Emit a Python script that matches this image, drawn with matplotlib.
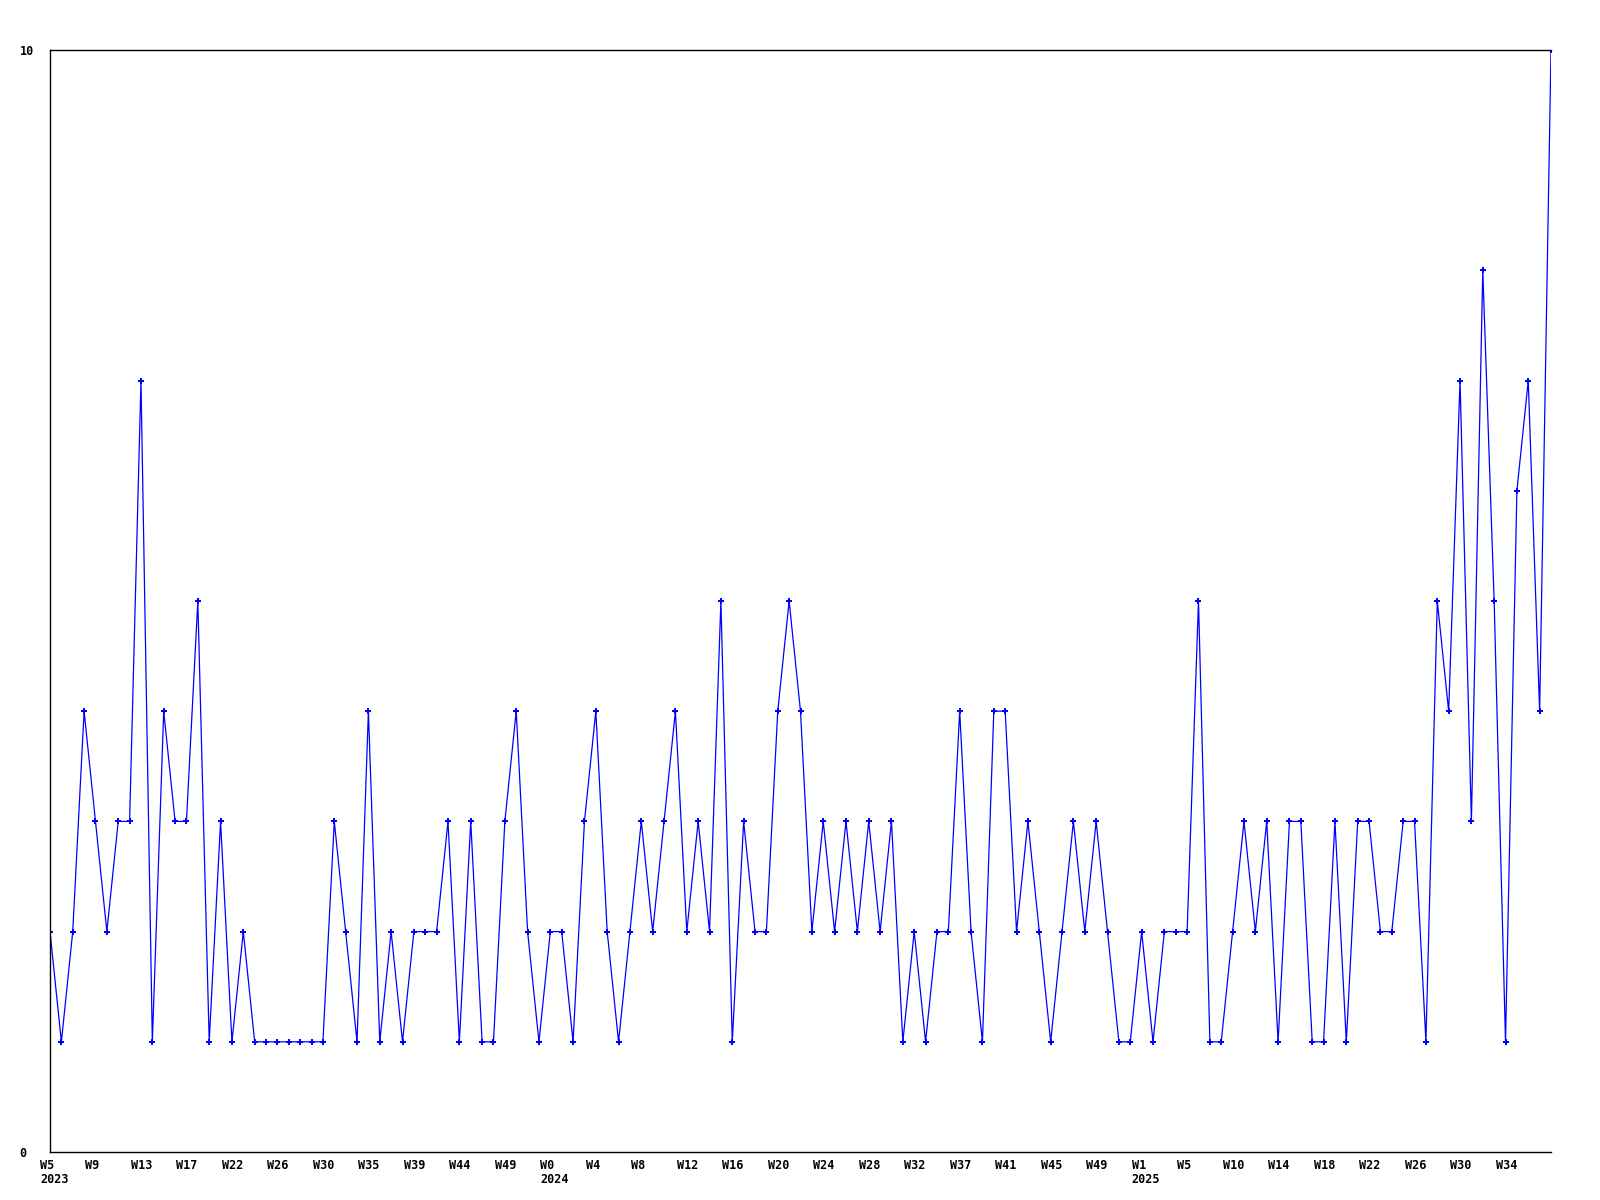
import matplotlib
matplotlib.use("Agg")
import matplotlib.pyplot as plt
from matplotlib.transforms import ScaledTranslation

values = [
    2, 1, 2, 4, 3, 2, 3, 3, 7, 1,
    4, 3, 3, 5, 1, 3, 1, 2, 1, 1,
    1, 1, 1, 1, 1, 3, 2, 1, 4, 1,
    2, 1, 2, 2, 2, 3, 1, 3, 1, 1,
    3, 4, 2, 1, 2, 2, 1, 3, 4, 2,
    1, 2, 3, 2, 3, 4, 2, 3, 2, 5,
    1, 3, 2, 2, 4, 5, 4, 2, 3, 2,
    3, 2, 3, 2, 3, 1, 2, 1, 2, 2,
    4, 2, 1, 4, 4, 2, 3, 2, 1, 2,
    3, 2, 3, 2, 1, 1, 2, 1, 2, 2,
    2, 5, 1, 1, 2, 3, 2, 3, 1, 3,
    3, 1, 1, 3, 1, 3, 3, 2, 2, 3,
    3, 1, 5, 4, 7, 3, 8, 5, 1, 6,
    7, 4, 10,
]

tick_weeks = ["W5", "W9", "W13", "W17", "W22", "W26", "W30", "W35", "W39", "W44", "W49",
              "W0", "W4", "W8", "W12", "W16", "W20", "W24", "W28", "W32", "W37", "W41", "W45", "W49",
              "W1", "W5", "W10", "W14", "W18", "W22", "W26", "W30", "W34"]
tick_years = {0: "2023", 11: "2024", 24: "2025"}
tick_step = 4

y_ticks = [0, 10]

fig = plt.figure(figsize=(16, 12), dpi=100)
ax = fig.add_axes([50 / 1600, 48 / 1200, 1501 / 1600, 1102 / 1200])

x = list(range(len(values)))
ax.plot(x, values, color="#0000ff", linewidth=0.9, marker="P", markersize=5,
        markeredgewidth=0, antialiased=True)

ax.set_xlim(0, len(values) - 1)
ax.set_ylim(0, 10)

for s in ["left", "top", "bottom"]:
    ax.spines[s].set_color("black")
    ax.spines[s].set_linewidth(1.0)
ax.spines["right"].set_visible(False)

font = dict(family="DejaVu Sans Mono", weight="bold", size=8.5)

ax.set_yticks(y_ticks)
ax.set_yticklabels([str(v) for v in y_ticks], fontdict=font, ha="left")
ax.tick_params(axis="y", length=0, pad=22)

xt = [i * tick_step for i in range(len(tick_weeks))]
labels = []
for i, w in enumerate(tick_weeks):
    if i in tick_years:
        labels.append(w + "\n" + tick_years[i])
    else:
        labels.append(w)
ax.set_xticks(xt)
ax.set_xticklabels(labels, fontdict=font, ha="left", va="top", linespacing=1.1)
ax.tick_params(axis="x", length=0, pad=5)
off = ScaledTranslation(-10 / 100, 0, fig.dpi_scale_trans)
for lab in ax.get_xticklabels():
    lab.set_transform(lab.get_transform() + off)

fig.savefig("out.png", dpi=100, facecolor="white")
